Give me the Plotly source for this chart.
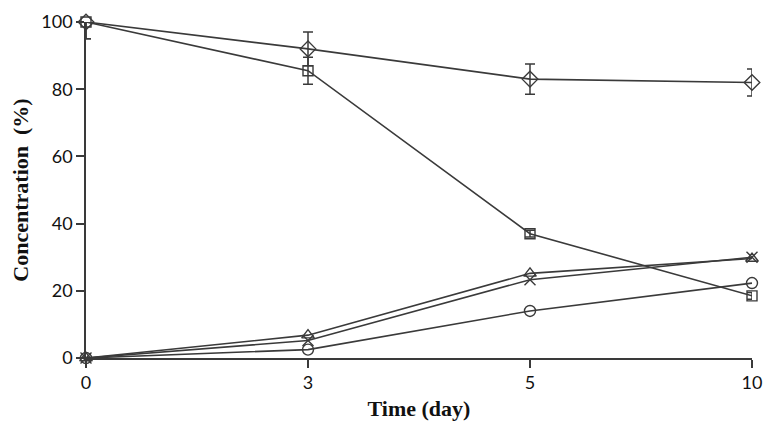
import plotly.graph_objects as go

days = ["0", "3", "5", "10"]

diamond = [100, 92, 83, 82]
diamond_err = [5, 5, 4.5, 4]
square = [100, 85.5, 37, 18.5]
square_err = [5, 4, 1, 1]
triangle = [0, 6.8, 25.2, 29.6]
cross = [0, 5.2, 23.3, 30]
circle = [0, 2.5, 14, 22.3]

line_col = "#3a3a3a"

fig = go.Figure()


def add(y, symbol, err=None, size=10):
    open_sym = symbol.endswith("-open")
    fig.add_trace(go.Scatter(
        x=days, y=y, mode="lines+markers",
        line=dict(color=line_col, width=1.6),
        marker=dict(symbol=symbol, size=size,
                    color=line_col if open_sym else "rgba(255,255,255,0)",
                    line=dict(color=line_col, width=1.4)),
        error_y=None if err is None else dict(
            type="data", array=err, visible=True,
            color=line_col, thickness=1.5, width=5),
        cliponaxis=False, showlegend=False,
    ))


add(diamond, "diamond", diamond_err, 12)
add(square, "square", square_err, 10)
add(circle, "circle", None, 11)
add(cross, "x-thin-open", None, 11)
add(triangle, "triangle-up", None, 11)

tick_font = dict(family="Lato, Open Sans, sans-serif", size=18, color="#111")
title_font = dict(family="Liberation Serif, Times New Roman, serif", size=22, color="#111")

# the page body has an 8px margin, so the margins below are shifted by that
fig.update_layout(
    width=774, height=432,
    margin=dict(l=78, r=30, t=14, b=82),
    paper_bgcolor="white", plot_bgcolor="white",
    xaxis=dict(
        type="category", range=[0, 3], automargin=False,
        ticklabeloverflow="allow",
        showline=True, linecolor=line_col, linewidth=1.5,
        ticks="outside", ticklen=8, tickcolor=line_col, tickwidth=1.5,
        showgrid=False, zeroline=False, tickfont=tick_font,
        title=dict(text="<b>Time (day)</b>", standoff=8, font=title_font),
    ),
    yaxis=dict(
        range=[0, 100], tickvals=[0, 20, 40, 60, 80, 100], automargin=False,
        ticklabeloverflow="allow",
        showline=True, linecolor=line_col, linewidth=1.5,
        ticks="outside", ticklen=8, tickcolor=line_col, tickwidth=1.5,
        showgrid=False, zeroline=False, tickfont=tick_font,
        title=dict(text="<b>Concentration  (%)</b>", standoff=26, font=title_font),
    ),
)

fig.write_html("out.html")
